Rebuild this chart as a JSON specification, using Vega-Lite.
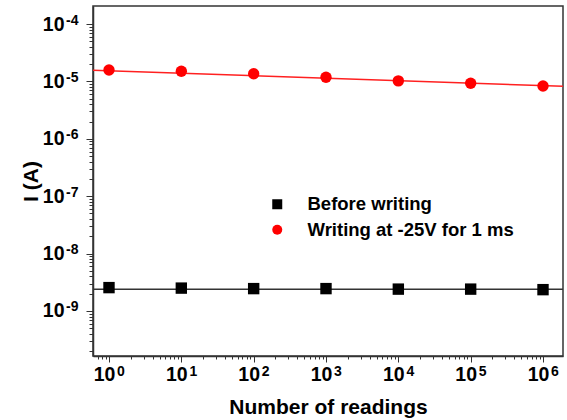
{
  "$schema": "https://vega.github.io/schema/vega-lite/v6.json",
  "autosize": {"type": "none"},
  "width": 470,
  "height": 350,
  "padding": {"left": 93, "top": 6, "right": 4, "bottom": 64},
  "background": "white",
  "config": {
    "font": "Liberation Sans",
    "view": {"stroke": "#333333", "strokeWidth": 1.5},
    "axis": {"grid": false, "domainColor": "#333333", "domainWidth": 1.5, "tickColor": "#333333", "tickWidth": 1, "labelFont": "Liberation Sans", "labelFontWeight": "bold", "labelColor": "black", "titleFont": "Liberation Sans", "titleFontWeight": "bold", "titleColor": "black", "labelFlush": false, "labelOverlap": false}
  },
  "datasets": {
    "pts": [
      {"n": 1, "I": 2.55e-9, "series": "Before writing"},
      {"n": 10, "I": 2.5e-9, "series": "Before writing"},
      {"n": 100, "I": 2.45e-9, "series": "Before writing"},
      {"n": 1000, "I": 2.45e-9, "series": "Before writing"},
      {"n": 10000, "I": 2.4e-9, "series": "Before writing"},
      {"n": 100000, "I": 2.4e-9, "series": "Before writing"},
      {"n": 1000000, "I": 2.35e-9, "series": "Before writing"},
      {"n": 1, "I": 1.58e-5, "series": "Writing at -25V for 1 ms"},
      {"n": 10, "I": 1.5e-5, "series": "Writing at -25V for 1 ms"},
      {"n": 100, "I": 1.36e-5, "series": "Writing at -25V for 1 ms"},
      {"n": 1000, "I": 1.18e-5, "series": "Writing at -25V for 1 ms"},
      {"n": 10000, "I": 1.02e-5, "series": "Writing at -25V for 1 ms"},
      {"n": 100000, "I": 9.3e-6, "series": "Writing at -25V for 1 ms"},
      {"n": 1000000, "I": 8.3e-6, "series": "Writing at -25V for 1 ms"}
    ],
    "fit": [
      {"n": 0.601, "I": 2.39e-9, "series": "Before writing"},
      {"n": 1890000, "I": 2.39e-9, "series": "Before writing"},
      {"n": 0.601, "I": 1.56e-5, "series": "Writing at -25V for 1 ms"},
      {"n": 1890000, "I": 8.2e-6, "series": "Writing at -25V for 1 ms"}
    ]
  },
  "resolve": {"axis": {"x": "independent", "y": "independent"}},
  "layer": [
    {
      "data": {"name": "fit"},
      "transform": [{"filter": "datum.series == 'Before writing'"}],
      "mark": {"type": "line", "color": "#333333", "strokeWidth": 1.5, "clip": true},
      "encoding": {
        "x": {
          "field": "n", "type": "quantitative",
          "scale": {"type": "log", "domain": [0.601, 1890000], "nice": false},
          "axis": {
            "orient": "bottom",
            "title": "Number of readings", "titleFontSize": 21, "titlePadding": 12.5,
            "values": [0.7,0.8,0.9,1,2,3,4,5,6,7,8,9,10,20,30,40,50,60,70,80,90,100,200,300,400,500,600,700,800,900,1000,2000,3000,4000,5000,6000,7000,8000,9000,10000,20000,30000,40000,50000,60000,70000,80000,90000,100000,200000,300000,400000,500000,600000,700000,800000,900000,1000000],
            "labelExpr": "abs(log(datum.value)/LN10 - round(log(datum.value)/LN10)) < 0.001 ? '10' : ''",
            "labelFontSize": 19.5, "labelOffset": -5, "labelPadding": 3,
            "tickSize": {"condition": {"test": "abs(log(datum.value)/LN10 - round(log(datum.value)/LN10)) < 0.001", "value": 6}, "value": 3}
          }
        },
        "y": {
          "field": "I", "type": "quantitative",
          "scale": {"type": "log", "domain": [1.64e-10, 2.06e-4], "nice": false},
          "axis": {
            "orient": "left",
            "title": "I (A)", "titleFontSize": 21, "titlePadding": 1,
            "values": [2e-10,3e-10,4e-10,5e-10,6e-10,7e-10,8e-10,9e-10,1e-9,2e-9,3e-9,4e-9,5e-9,6e-9,7e-9,8e-9,9e-9,1e-8,2e-8,3e-8,4e-8,5e-8,6e-8,7e-8,8e-8,9e-8,1e-7,2e-7,3e-7,4e-7,5e-7,6e-7,7e-7,8e-7,9e-7,1e-6,2e-6,3e-6,4e-6,5e-6,6e-6,7e-6,8e-6,9e-6,1e-5,2e-5,3e-5,4e-5,5e-5,6e-5,7e-5,8e-5,9e-5,1e-4],
            "labelExpr": "abs(log(datum.value)/LN10 - round(log(datum.value)/LN10)) < 0.001 ? '10' : ''",
            "labelFontSize": 19.5, "labelPadding": 22,
            "tickSize": {"condition": {"test": "abs(log(datum.value)/LN10 - round(log(datum.value)/LN10)) < 0.001", "value": 7}, "value": 4}
          }
        }
      }
    },
    {
      "data": {"name": "fit"},
      "transform": [{"filter": "datum.series != 'Before writing'"}],
      "mark": {"type": "line", "color": "#ff2020", "strokeWidth": 1.5, "clip": true},
      "encoding": {
        "x": {"field": "n", "type": "quantitative", "axis": null},
        "y": {"field": "I", "type": "quantitative", "axis": null}
      }
    },
    {
      "data": {"name": "pts"},
      "mark": {"type": "point", "filled": true, "opacity": 1, "size": 130},
      "encoding": {
        "x": {
          "field": "n", "type": "quantitative",
          "axis": {
            "orient": "bottom", "title": null, "domain": false, "ticks": false,
            "values": [1,10,100,1000,10000,100000,1000000],
            "labelExpr": "'' + round(log(datum.value)/LN10)",
            "labelFontSize": 14, "labelOffset": 11.5, "labelPadding": 8.5
          }
        },
        "y": {
          "field": "I", "type": "quantitative",
          "axis": {
            "orient": "left", "title": null, "domain": false, "ticks": false,
            "values": [1e-9,1e-8,1e-7,1e-6,1e-5,1e-4],
            "labelExpr": "'' + round(log(datum.value)/LN10)",
            "labelFontSize": 14, "labelOffset": -4, "labelPadding": 15
          }
        },
        "color": {"field": "series", "type": "nominal", "scale": {"domain": ["Before writing", "Writing at -25V for 1 ms"], "range": ["black", "#ff0000"]}, "legend": {"title": null, "orient": "none", "legendX": 175, "legendY": 189, "padding": 0, "symbolSize": 100, "labelFontSize": 18.5, "labelFontWeight": "bold", "labelFont": "Liberation Sans", "labelColor": "black", "labelOffset": 21, "labelLimit": 400, "rowPadding": 6.5, "symbolStrokeWidth": 0}},
        "shape": {"field": "series", "type": "nominal", "scale": {"domain": ["Before writing", "Writing at -25V for 1 ms"], "range": ["square", "circle"]}, "legend": {"title": null, "orient": "none", "legendX": 175, "legendY": 189, "padding": 0, "symbolSize": 100, "labelFontSize": 18.5, "labelFontWeight": "bold", "labelFont": "Liberation Sans", "labelColor": "black", "labelOffset": 21, "labelLimit": 400, "rowPadding": 6.5, "symbolStrokeWidth": 0}}
      }
    }
  ]
}
